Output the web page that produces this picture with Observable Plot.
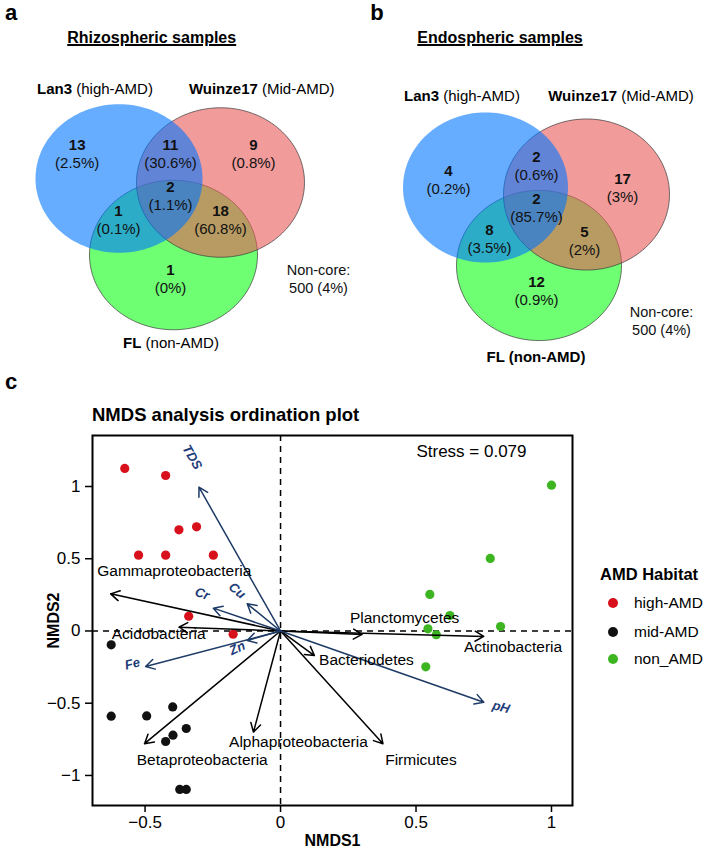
<!DOCTYPE html>
<html><head><meta charset="utf-8">
<script src="https://cdn.jsdelivr.net/npm/d3@7"></script>
<script src="https://cdn.jsdelivr.net/npm/@observablehq/plot@0.6"></script>
<style>
body{margin:0;background:#fff;font-family:"Liberation Sans",Arial,Helvetica,sans-serif;color:#000;}
#root{position:relative;width:708px;height:863px;overflow:hidden;background:#fff;}
#root svg{position:absolute;overflow:visible;}
.t{position:absolute;white-space:nowrap;line-height:1;}
</style></head><body><div id="root"></div>
<script>
// ---------------- DATA ----------------
// Venn regions: A = Lan3, B = Wuinze17, C = FL
const regionKeys = ["A", "AB", "B", "ABC", "AC", "BC", "C"];
const rhizoCounts = [13, 11, 9, 2, 1, 18, 1];
const rhizoPercents = ["2.5%", "30.6%", "0.8%", "1.1%", "0.1%", "60.8%", "0%"];
const endoCounts = [4, 2, 17, 2, 8, 5, 12];
const endoPercents = ["0.2%", "0.6%", "3%", "85.7%", "3.5%", "2%", "0.9%"];
const nonCoreCounts = [500, 500];
const nonCorePercents = ["4%", "4%"];

// NMDS samples
const habitats = ["high-AMD", "mid-AMD", "non_AMD"];
const habitatColors = ["#d7101b", "#111111", "#3cb521"];
const highX = [-0.575, -0.424, -0.375, -0.310, -0.524, -0.424, -0.248, -0.339, -0.175];
const highY = [1.125, 1.076, 0.700, 0.721, 0.525, 0.525, 0.525, 0.102, -0.022];
const midX = [-0.625, -0.625, -0.494, -0.398, -0.348, -0.397, -0.424, -0.372, -0.348];
const midY = [-0.096, -0.590, -0.588, -0.526, -0.675, -0.721, -0.765, -1.097, -1.097];
const nonX = [1.000, 0.774, 0.551, 0.625, 0.544, 0.575, 0.812, 0.536];
const nonY = [1.009, 0.502, 0.253, 0.107, 0.015, -0.026, 0.031, -0.248];

// species vectors
const speciesNames = ["Gammaproteobacteria", "Acidobacteria", "Planctomycetes", "Actinobacteria", "Bacteriodetes", "Alphaproteobacteria", "Firmicutes", "Betaproteobacteria"];
const speciesX = [-0.627, -0.375, 0.301, 0.750, 0.125, -0.100, 0.378, -0.502];
const speciesY = [0.257, 0.026, -0.024, -0.038, -0.170, -0.700, -0.780, -0.780];
const speciesLabelX = [-0.392, -0.450, 0.458, 0.858, 0.317, 0.066, 0.518, -0.289];
const speciesLabelY = [0.412, -0.020, 0.091, -0.112, -0.200, -0.770, -0.896, -0.896];

// environmental vectors
const envNames = ["TDS", "Cu", "Cr", "Zn", "Fe", "pH"];
const envX = [-0.301, -0.123, -0.248, -0.123, -0.498, 0.750];
const envY = [0.995, 0.188, 0.158, -0.066, -0.246, -0.493];
const envLabelX = [-0.326, -0.160, -0.289, -0.160, -0.547, 0.814];
const envLabelY = [1.203, 0.280, 0.257, -0.119, -0.227, -0.527];
const envLabelAngle = [60, 40, 20, -25, -14, 15];

const xTicks = [-0.5, 0, 0.5, 1];
const yTicks = [-1, -0.5, 0, 0.5, 1];
const stressValue = "0.079";

// ---------------- LAYOUT ----------------
const FONT = '"Liberation Sans", Arial, Helvetica, sans-serif';
const root = document.getElementById("root");
function txt(html, x, y, style, anchor) {
  const d = document.createElement("div");
  d.className = "t";
  d.innerHTML = html;
  const tx = anchor === "start" ? "0" : anchor === "end" ? "-100%" : "-50%";
  d.style.cssText += `left:${x}px;top:${y}px;transform:translate(${tx},-50%);${style || ""}`;
  root.appendChild(d);
}
function ellipse(k) {
  return {draw(ctx, size) {
    const r = Math.sqrt(size / Math.PI), n = 144;
    for (let i = 0; i <= n; ++i) {
      const t = 2 * Math.PI * i / n;
      const px = r * Math.cos(t), py = k * r * Math.sin(t);
      if (i === 0) ctx.moveTo(px, py); else ctx.lineTo(px, py);
    }
    ctx.closePath();
  }};
}
const vennColors = {A: "#0075ff", B: "#e95858", C: "#0dff16"};

function venn(counts, percents, circles, pos, k, nonCorePos, nonCoreText) {
  const regions = regionKeys.map((key, i) => ({key, count: String(counts[i]), pct: `(${percents[i]})`, x: pos[key][0], y: pos[key][1]}));
  const circleMark = (key, stroke) => Plot.dot([circles[key]], {
    x: "cx", y: "cy", r: circles[key].r, symbol: ellipse(k),
    fill: vennColors[key], fillOpacity: 0.6,
    stroke: stroke ? "#3a3a3a" : "none", strokeWidth: 0.7
  });
  return Plot.plot({
    width: 354, height: 370, margin: 0,
    x: {domain: [0, 354], range: [0, 354], axis: null},
    y: {domain: [0, 370], range: [0, 370], axis: null},
    style: {fontFamily: FONT, background: "transparent", color: "#000"},
    marks: [
      circleMark("C", true),
      circleMark("B", true),
      circleMark("A", false),
      Plot.text(regions, {x: "x", y: "y", text: "count", fontWeight: "bold", fontSize: 15, fill: "#111"}),
      Plot.text(regions, {x: "x", y: d => d.y + 18, text: "pct", fontSize: 15, fill: "#111"}),
      Plot.text([nonCoreText], {x: () => nonCorePos[0], y: () => nonCorePos[1], text: d => d, fontSize: 14.5, lineHeight: 1.25, fill: "#111"})
    ]
  });
}

// Panel a
const vennA = venn(rhizoCounts, rhizoPercents,
  {A: {cx: 118.5, cy: 178, r: 83.5}, B: {cx: 220, cy: 182, r: 84}, C: {cx: 173, cy: 254.5, r: 84}},
  {A: [76.7, 145], AB: [170, 145], B: [253, 145], ABC: [170, 187], AC: [118, 211], BC: [220, 211], C: [170, 270]},
  0.89, [318, 278], `Non-core:\n${nonCoreCounts[0]} (${nonCorePercents[0]})`);
vennA.style.left = "0px"; vennA.style.top = "0px";
root.appendChild(vennA);

// Panel b
const vennB = venn(endoCounts, endoPercents,
  {A: {cx: 131, cy: 187, r: 82.5}, B: {cx: 232, cy: 194, r: 83}, C: {cx: 184.5, cy: 265, r: 82.5}},
  {A: [94, 171], AB: [182, 157], B: [268, 179], ABC: [182, 199], AC: [135, 230], BC: [230, 232], C: [182, 282]},
  0.91, [307, 319.5], `Non-core:\n${nonCoreCounts[1]} (${nonCorePercents[1]})`);
vennB.style.left = "354px"; vennB.style.top = "0px";
root.appendChild(vennB);

// Panel c: NMDS
const samples = [
  ...highX.map((x, i) => ({x, y: highY[i], habitat: habitats[0]})),
  ...midX.map((x, i) => ({x, y: midY[i], habitat: habitats[1]})),
  ...nonX.map((x, i) => ({x, y: nonY[i], habitat: habitats[2]}))
];
const species = speciesNames.map((name, i) => ({name, x0: 0, y0: 0, x: speciesX[i], y: speciesY[i], lx: speciesLabelX[i], ly: speciesLabelY[i]}));
const env = envNames.map((name, i) => ({name, x0: 0, y0: 0, x: envX[i], y: envY[i], lx: envLabelX[i], ly: envLabelY[i], a: envLabelAngle[i]}));
const fmt = d => (d < 0 ? "\u2212" : "") + Math.abs(d);
const envColor = "#1d3b66";

const nmds = Plot.plot({
  width: 708, height: 493,
  marginLeft: 92, marginRight: 136, marginTop: 65, marginBottom: 58,
  style: {fontFamily: FONT, fontSize: "17px", color: "#000", background: "transparent"},
  x: {domain: [-0.694, 1.0775], ticks: xTicks, tickFormat: fmt, tickSize: 7, tickPadding: 3, label: null},
  y: {domain: [-1.208, 1.353], ticks: yTicks, tickFormat: fmt, tickSize: 7, tickPadding: 5, label: null},
  color: {domain: habitats, range: habitatColors},
  marks: [
    Plot.ruleX([0], {stroke: "#000", strokeWidth: 1.5, strokeDasharray: "6,5"}),
    Plot.ruleY([0], {stroke: "#000", strokeWidth: 1.5, strokeDasharray: "6,5"}),
    Plot.dot(samples, {x: "x", y: "y", fill: "habitat", r: 4.6, stroke: "none"}),
    Plot.arrow(species, {x1: "x0", y1: "y0", x2: "x", y2: "y", stroke: "#000", strokeWidth: 1.5, headLength: 10, headAngle: 60}),
    Plot.arrow(env, {x1: "x0", y1: "y0", x2: "x", y2: "y", stroke: envColor, strokeWidth: 1.5, headLength: 10, headAngle: 60}),
    Plot.text(species, {x: "lx", y: "ly", text: "name", fontSize: 15.5, fill: "#000"}),
    Plot.text(env, {x: "lx", y: "ly", text: "name", rotate: "a", fontSize: 13, fontWeight: "bold", fontStyle: "italic", fill: "#1e3c7a"}),
    Plot.text([`Stress = ${stressValue}`], {text: d => d, frameAnchor: "top-right", textAnchor: "end", lineAnchor: "middle", dx: -46, dy: 16, fontSize: 17}),
    Plot.frame({stroke: "#000", strokeWidth: 2}),
    Plot.text(["NMDS1"], {text: d => d, frameAnchor: "bottom", lineAnchor: "middle", textAnchor: "middle", dy: 35, fontSize: 16, fontWeight: "bold"}),
    Plot.text(["NMDS2"], {text: d => d, frameAnchor: "left", lineAnchor: "middle", textAnchor: "middle", rotate: -90, dx: -39, fontSize: 16, fontWeight: "bold"})
  ]
});
nmds.style.left = "0px"; nmds.style.top = "370px";
nmds.querySelectorAll('g[aria-label*="axis"] line, g[aria-label*="axis"] path').forEach(e => e.setAttribute("stroke-width", "1.5"));
root.appendChild(nmds);

// ---------------- TEXT (titles, set names, legend) ----------------
txt("a", 11, 13, "font-size:22px;font-weight:bold;");
txt("b", 377, 13, "font-size:22px;font-weight:bold;");
txt("c", 11, 382, "font-size:22px;font-weight:bold;");
txt("Rhizospheric samples", 151.7, 38, "font-size:16px;font-weight:bold;text-decoration:underline;text-decoration-thickness:1.5px;");
txt("Endospheric samples", 500, 38, "font-size:16px;font-weight:bold;text-decoration:underline;text-decoration-thickness:1.5px;");
txt("<b>Lan3</b> (high-AMD)", 95, 88, "font-size:15px;");
txt("<b>Wuinze17</b> (Mid-AMD)", 261.7, 88, "font-size:15px;");
txt("<b>FL</b> (non-AMD)", 171, 342, "font-size:15px;");
txt("<b>Lan3</b> (high-AMD)", 462, 95, "font-size:15px;");
txt("<b>Wuinze17</b> (Mid-AMD)", 621, 95, "font-size:15px;");
txt("<b>FL (non-AMD)</b>", 536, 356, "font-size:15px;");
txt("NMDS analysis ordination plot", 92, 415, "font-size:18.5px;font-weight:bold;", "start");

// legend
txt("AMD Habitat", 600, 574, "font-size:16.5px;font-weight:bold;", "start");
const legendY = [603.3, 631.7, 659.3];
habitats.forEach((h, i) => {
  const dot = document.createElement("div");
  dot.style.cssText = `position:absolute;left:${613 - 5}px;top:${legendY[i] - 5}px;width:10px;height:10px;border-radius:50%;background:${habitatColors[i]};`;
  root.appendChild(dot);
  txt(h, 634, legendY[i], "font-size:15.5px;", "start");
});
</script></body></html>
